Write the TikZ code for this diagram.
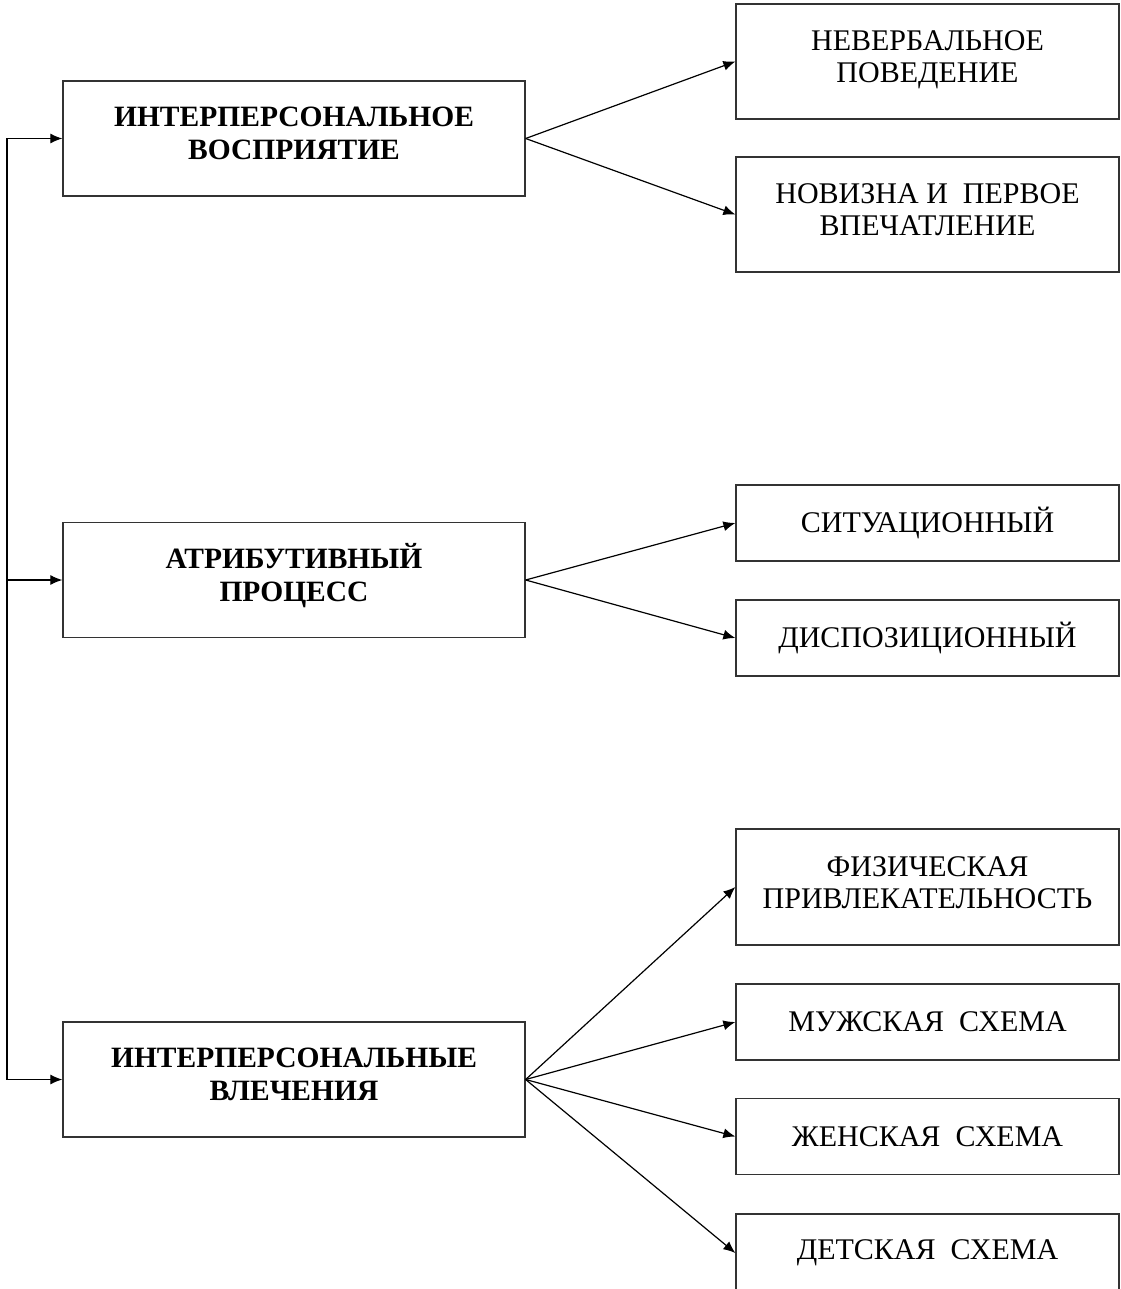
\documentclass[tikz,border=0pt]{standalone}
\usepackage{fontspec}
\setmainfont{Liberation Serif}
\usepackage{xcolor}
\usetikzlibrary{arrows.meta,positioning,calc}
\definecolor{cInk}{HTML}{000000}
\definecolor{cFrame}{HTML}{333333}
\tikzset{
  lbox/.style={draw=cFrame,line width=1.3pt,align=center,inner sep=0pt,minimum width=462pt,minimum height=115pt,
    font=\fontsize{29.5}{33}\selectfont\bfseries,text=cInk,two},
  rbox/.style={draw=cFrame,line width=1.3pt,align=center,inner sep=0pt,minimum width=383pt,minimum height=#1,
    font=\fontsize{30}{32}\selectfont,text=cInk},
  rbox/.default=76pt,
  two/.style={text height=55pt,text depth=13pt},
  arr/.style={-{Latex[length=12pt,width=10pt]},line width=1.2pt,color=cInk},
}
\begin{document}
\begin{tikzpicture}[x=1pt,y=-1pt]
  \useasboundingbox (0,0) rectangle (1120,1289);
  \clip (0,0) rectangle (1120,1289);
  % left column
  \node[lbox] (perc) at (294,138.5) {ИНТЕРПЕРСОНАЛЬНОЕ\\ВОСПРИЯТИЕ};
  \node[lbox] (attr) at (294,580) {АТРИБУТИВНЫЙ\\ПРОЦЕСС};
  \node[lbox] (attr2) at (294,1079.5) {ИНТЕРПЕРСОНАЛЬНЫЕ\\ВЛЕЧЕНИЯ};
  % right column
  \node[rbox=115pt,two] (nonverb) at (927.5,61.5) {НЕВЕРБАЛЬНОЕ\\ПОВЕДЕНИЕ};
  \node[rbox=115pt,two] (novelty) at (927.5,214.5) {НОВИЗНА И~~ПЕРВОЕ\\ВПЕЧАТЛЕНИЕ};
  \node[rbox] (situ) at (927.5,523) {СИТУАЦИОННЫЙ};
  \node[rbox] (dispo) at (927.5,638) {ДИСПОЗИЦИОННЫЙ};
  \node[rbox=116pt,two] (phys) at (927.5,887) {ФИЗИЧЕСКАЯ\\ПРИВЛЕКАТЕЛЬНОСТЬ};
  \node[rbox] (male) at (927.5,1022) {МУЖСКАЯ~~СХЕМА};
  \node[rbox] (female) at (927.5,1136.5) {ЖЕНСКАЯ~~СХЕМА};
  \node[rbox=78pt] (child) at (927.5,1253) {ДЕТСКАЯ~~СХЕМА};
  % bus on the left
  \coordinate (bus) at (7,0);
  \draw[arr] (attr2.west -| bus) |- (perc.west);
  \draw[arr] (attr.west -| bus) -- (attr.west);
  \draw[arr] (attr2.west -| bus) -- (attr2.west);
  % fans
  \foreach \t in {nonverb,novelty}
    \draw[arr] (perc.east) -- (\t.west);
  \foreach \t in {situ,dispo}
    \draw[arr] (attr.east) -- (\t.west);
  \foreach \t in {phys,male,female,child}
    \draw[arr] (attr2.east) -- (\t.west);
\end{tikzpicture}
\end{document}
